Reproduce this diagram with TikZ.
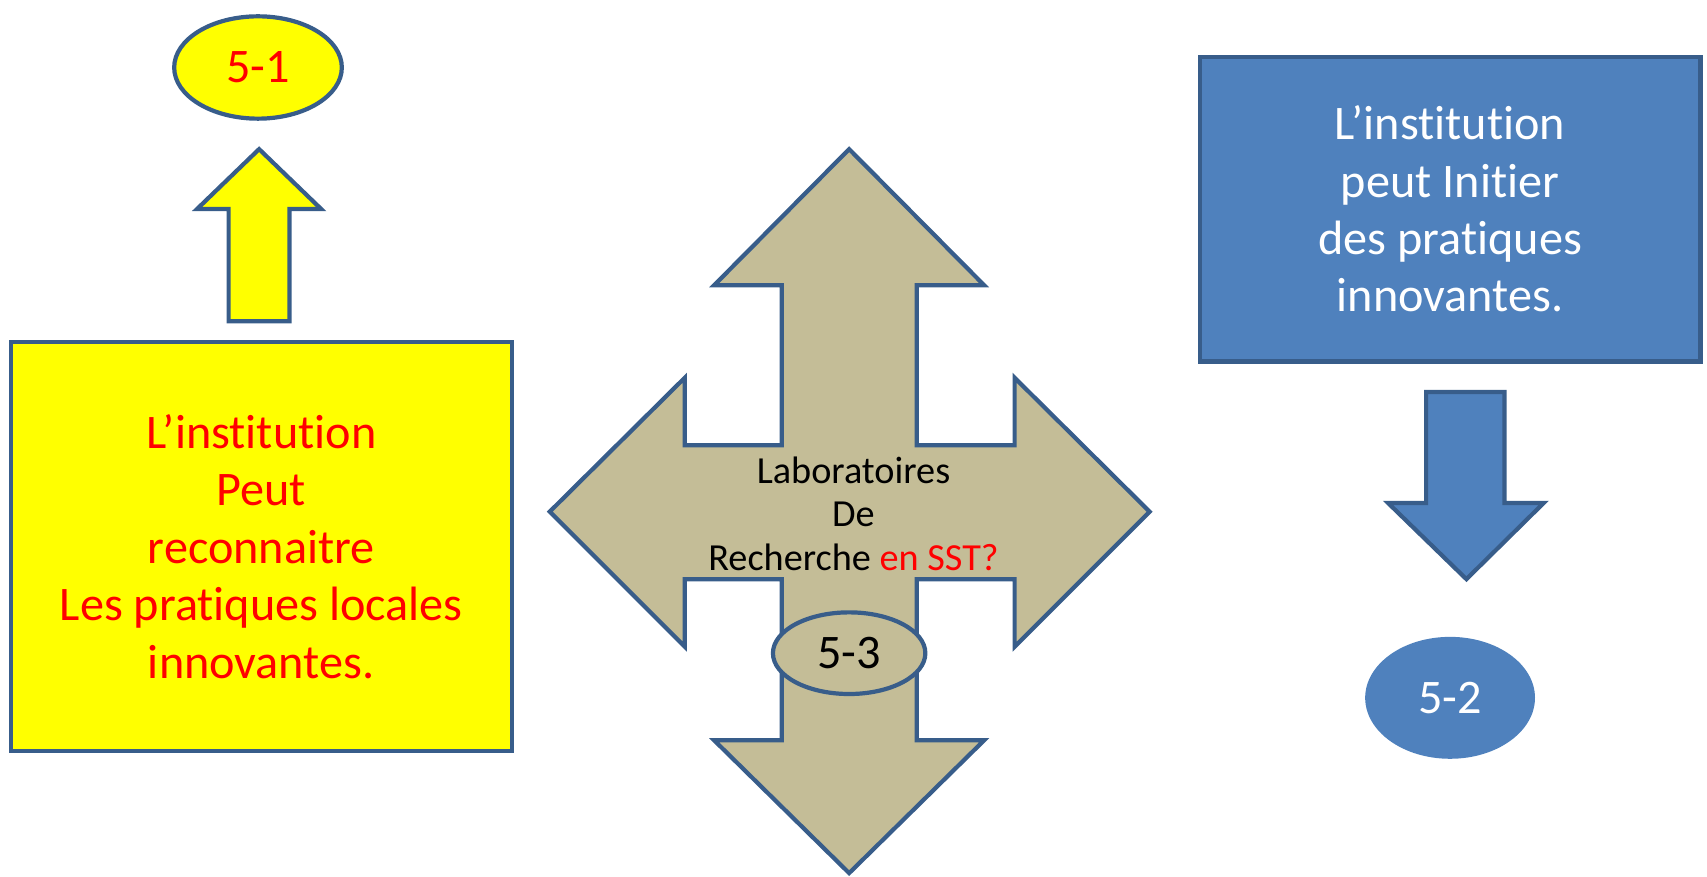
\documentclass[tikz,border=0pt]{standalone}
\usepackage{fontspec}
\setmainfont{Carlito}[Ligatures=NoCommon]
\usetikzlibrary{shapes.geometric}
\definecolor{edgeblue}{HTML}{385D8A}
\definecolor{khaki}{HTML}{C4BD97}
\definecolor{officeblue}{HTML}{4F81BD}
\definecolor{pptred}{HTML}{FF0000}
\definecolor{pptyellow}{HTML}{FFFF00}

\begin{document}
\begin{tikzpicture}[x=0.1mm, y=-0.1mm, line width=1.1pt, line join=miter,
      every node/.style = {align=center, inner sep=0pt},
      bigfont/.style = {font=\fontsize{12.6}{15}\selectfont},
      smallfont/.style = {font=\fontsize{10}{11.4}\selectfont},
      yellowbox/.style = {shape=rectangle, draw=edgeblue, fill=pptyellow,
        minimum width=46mm, minimum height=37.6mm, text=pptred, bigfont},
      bluebox/.style = {shape=rectangle, draw=edgeblue, fill=officeblue,
        minimum width=46mm, minimum height=28mm, text=white, bigfont},
      tag/.style = {shape=ellipse, bigfont}]
  \useasboundingbox (0,0) rectangle (1568,805);

  % left column
  \node[yellowbox] (reco) at (240,502)
    {L’institution\\Peut\\reconnaitre\\Les pratiques locales\\innovantes.};
  \filldraw[draw=edgeblue, fill=pptyellow]
    (238,137) -- (295,192) -- (266,192) -- (266,295)
    -- (210,295) -- (210,192) -- (181,192) -- cycle;
  \node[tag, draw=edgeblue, fill=pptyellow, text=pptred,
    minimum width=15.4mm, minimum height=9.4mm] (e51) at (237,62) {5-1};

  % middle: four-way arrow
  \filldraw[draw=edgeblue, fill=khaki]
    (780,137) -- (904,262) -- (842,262) -- (842,409) -- (932,409)
    -- (932,347) -- (1056,470) -- (932,594) -- (932,532) -- (842,532)
    -- (842,680) -- (904,680) -- (780,802) -- (656,680) -- (718,680)
    -- (718,532) -- (629,532) -- (629,594) -- (505,470) -- (629,347)
    -- (629,409) -- (718,409) -- (718,262) -- (656,262) -- cycle;
  \node[smallfont] (labo) at (784,472)
    {Laboratoires\\De\\Recherche \textcolor{pptred}{en SST?}};
  \node[tag, draw=edgeblue, fill=khaki,
    minimum width=14mm, minimum height=7.5mm] (e53) at (780,600) {5-3};

  % right column
  \node[bluebox] (initier) at (1332,192)
    {L’institution\\peut Initier\\des pratiques\\innovantes.};
  \filldraw[draw=edgeblue, fill=officeblue]
    (1310,360) -- (1382,360) -- (1382,462) -- (1418,462)
    -- (1347,532) -- (1275,462) -- (1310,462) -- cycle;
  \node[tag, fill=officeblue, text=white,
    minimum width=15.6mm, minimum height=11.2mm] (e52) at (1332,641) {5-2};
\end{tikzpicture}
\end{document}
